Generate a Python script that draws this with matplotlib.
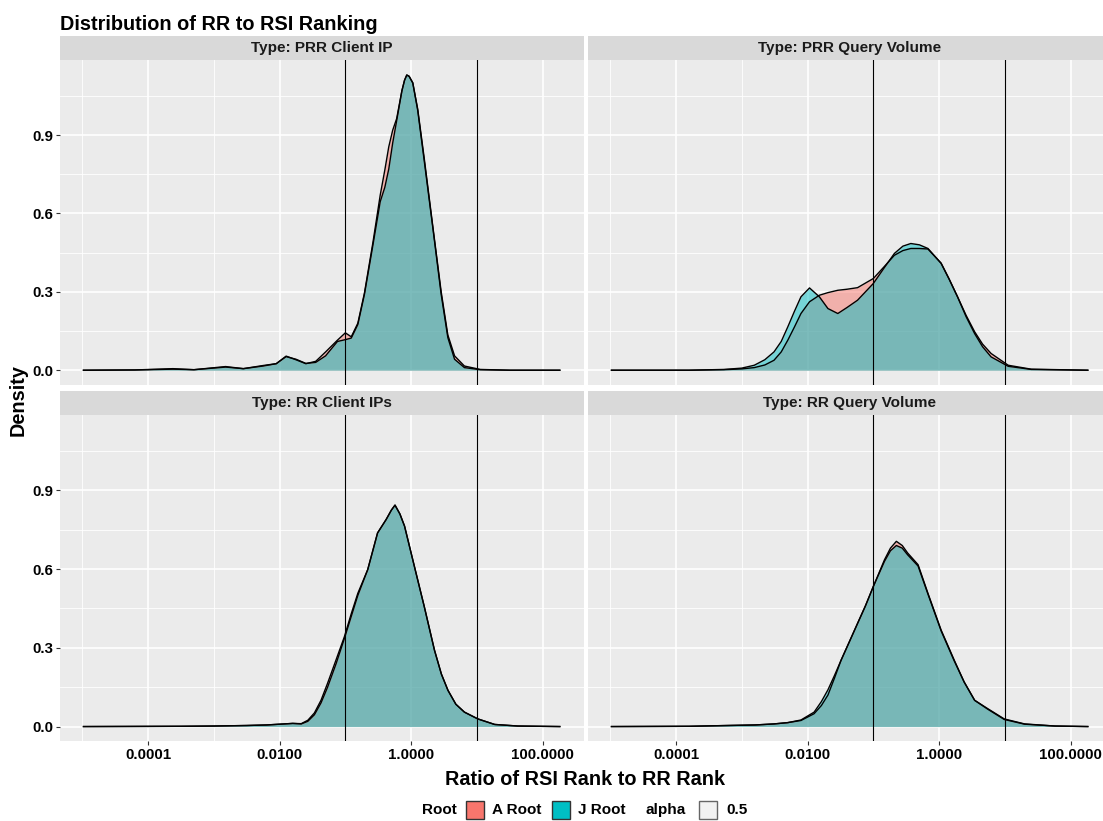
import numpy as np
import matplotlib
matplotlib.use("Agg")
import matplotlib.pyplot as plt
from matplotlib.patches import Rectangle
from matplotlib.ticker import FuncFormatter, NullFormatter

plt.rcParams["font.family"] = ["Liberation Sans", "DejaVu Sans"]
plt.rcParams["font.weight"] = "bold"

# log10 of the ratio, and density, per facet
prr_ip_log = [-4.98, -4.2, -3.62, -3.3, -2.82, -2.55, -2.25, -2.05, -1.9, -1.75, -1.6, -1.45,
              -1.3, -1.12, -1.0, -0.91, -0.81, -0.71, -0.58, -0.47, -0.40, -0.34, -0.28, -0.22,
              -0.14, -0.10, -0.066, -0.03, 0.025, 0.10, 0.20, 0.33, 0.457, 0.558, 0.66, 0.81,
              1.05, 1.5, 2.26]
prr_ip_a = [0, 0.001, 0.006, 0.002, 0.014, 0.006, 0.018, 0.025, 0.054, 0.04, 0.025, 0.034,
            0.07, 0.115, 0.143, 0.128, 0.18, 0.295, 0.49, 0.67, 0.766, 0.855, 0.919, 0.963,
            1.07, 1.11, 1.13, 1.125, 1.10, 1.0, 0.81, 0.55, 0.3, 0.135, 0.055, 0.016,
            0.003, 0.0, 0.0]
prr_ip_j = [0, 0.001, 0.004, 0.002, 0.012, 0.006, 0.016, 0.025, 0.052, 0.042, 0.026, 0.03,
            0.055, 0.11, 0.117, 0.123, 0.175, 0.29, 0.48, 0.645, 0.70, 0.77, 0.87, 0.955,
            1.07, 1.11, 1.13, 1.125, 1.10, 0.995, 0.80, 0.545, 0.29, 0.125, 0.042, 0.01,
            0.002, 0.0, 0.0]

prr_qv_log = [-4.98, -3.8, -3.27, -3.0, -2.81, -2.65, -2.51, -2.40, -2.30, -2.20, -2.10, -1.97,
              -1.82, -1.69, -1.54, -1.40, -1.24, -1.0, -0.84, -0.68, -0.55, -0.43, -0.30, -0.17,
              0.03, 0.15, 0.28, 0.41, 0.54, 0.66, 0.79, 1.05, 1.40, 2.26]
prr_qv_a = [0, 0, 0.002, 0.005, 0.01, 0.02, 0.038, 0.07, 0.115, 0.165, 0.217, 0.262,
            0.287, 0.297, 0.306, 0.31, 0.316, 0.351, 0.395, 0.44, 0.458, 0.466, 0.466, 0.464,
            0.41, 0.35, 0.281, 0.21, 0.147, 0.1, 0.064, 0.019, 0.004, 0]
prr_qv_j = [0, 0, 0.003, 0.008, 0.019, 0.04, 0.07, 0.11, 0.166, 0.225, 0.281, 0.315,
            0.281, 0.236, 0.217, 0.24, 0.268, 0.332, 0.39, 0.447, 0.475, 0.485, 0.48, 0.466,
            0.409, 0.35, 0.281, 0.205, 0.14, 0.09, 0.051, 0.015, 0.003, 0]

rr_ip_log = [-4.98, -3.5, -3.0, -2.5, -2.2, -1.93, -1.8, -1.67, -1.57, -1.47, -1.37, -1.27,
             -1.14, -1.015, -0.91, -0.81, -0.66, -0.51, -0.38, -0.30, -0.245, -0.17, -0.10,
             0.05, 0.20, 0.355, 0.46, 0.56, 0.68, 0.81, 1.015, 1.27, 1.62, 2.26]
rr_ip_a = [0, 0.001, 0.002, 0.004, 0.006, 0.01, 0.012, 0.011, 0.024, 0.052, 0.1, 0.165,
           0.255, 0.342, 0.43, 0.508, 0.598, 0.738, 0.789, 0.825, 0.844, 0.81, 0.764,
           0.61, 0.457, 0.291, 0.2, 0.138, 0.085, 0.055, 0.029, 0.008, 0.002, 0]
rr_ip_j = [0, 0.001, 0.002, 0.004, 0.006, 0.01, 0.012, 0.01, 0.02, 0.045, 0.09, 0.15,
           0.24, 0.335, 0.42, 0.50, 0.598, 0.738, 0.789, 0.825, 0.844, 0.81, 0.764,
           0.61, 0.457, 0.291, 0.2, 0.138, 0.085, 0.055, 0.029, 0.008, 0.002, 0]

rr_qv_log = [-4.98, -3.8, -3.22, -2.8, -2.51, -2.30, -2.10, -1.90, -1.79, -1.69, -1.59, -1.49,
             -1.37, -1.24, -1.12, -1.0, -0.83, -0.74, -0.65, -0.56, -0.48, -0.32, -0.17, 0.03,
             0.23, 0.38, 0.54, 0.74, 0.99, 1.30, 1.76, 2.26]
rr_qv_a = [0, 0.001, 0.004, 0.006, 0.01, 0.015, 0.023, 0.049, 0.08, 0.12, 0.185, 0.253,
           0.32, 0.393, 0.46, 0.534, 0.636, 0.68, 0.706, 0.69, 0.662, 0.617, 0.508, 0.368,
           0.253, 0.17, 0.1, 0.068, 0.029, 0.01, 0.002, 0]
rr_qv_j = [0, 0.001, 0.004, 0.006, 0.01, 0.015, 0.025, 0.055, 0.095, 0.14, 0.195, 0.253,
           0.32, 0.393, 0.46, 0.534, 0.63, 0.67, 0.69, 0.68, 0.655, 0.612, 0.505, 0.365,
           0.25, 0.17, 0.1, 0.066, 0.027, 0.009, 0.002, 0]

facet_titles = ["Type: PRR Client IP", "Type: PRR Query Volume",
                "Type: RR Client IPs", "Type: RR Query Volume"]
facet_data = [(prr_ip_log, prr_ip_a, prr_ip_j), (prr_qv_log, prr_qv_a, prr_qv_j),
              (rr_ip_log, rr_ip_a, rr_ip_j), (rr_qv_log, rr_qv_a, rr_qv_j)]
root_names = ["A Root", "J Root"]
root_colors = ["#F8766D", "#00BFC4"]
cutoffs = [0.1, 10]

W, H = 1103, 821


def fbox(x0, y0, x1, y1):
    # pixel box -> figure fraction
    return [x0 / W, 1 - y1 / H, (x1 - x0) / W, (y1 - y0) / H]


fig = plt.figure(figsize=(W / 100, H / 100), dpi=100)

cols = [(59.8, 583.5), (587.8, 1111.5)]
rows = [(60, 385), (415, 741.4)]
strips = [(36, 60), (391.5, 415)]

for i, (title, (lg, da, dj)) in enumerate(zip(facet_titles, facet_data)):
    r, c = divmod(i, 2)
    x0, x1 = cols[c]
    ax = fig.add_axes(fbox(x0, rows[r][0], x1, rows[r][1]))
    sx = fig.add_axes(fbox(x0, strips[r][0], x1, strips[r][1]))
    sx.set_facecolor("#D9D9D9")
    sx.set_xticks([])
    sx.set_yticks([])
    for s in sx.spines.values():
        s.set_visible(False)
    sx.text(0.5, 0.5, title, ha="center", va="center", fontsize=11,
            color="#1A1A1A", transform=sx.transAxes)

    x = 10 ** np.array(lg)
    for dens, col in zip([da, dj], root_colors):
        ax.fill_between(x, 0, dens, color=col, alpha=0.5, lw=0)
        ax.plot(x, dens, color="black", lw=1.0)
    for v in cutoffs:
        ax.axvline(v, color="black", lw=0.8)

    ax.set_xscale("log")
    ax.set_xlim(10 ** -5.34, 10 ** 2.62)
    ax.set_ylim(-0.0566, 1.1875)
    ax.set_facecolor("#EBEBEB")
    for s in ax.spines.values():
        s.set_visible(False)
    ax.set_xticks([1e-4, 1e-2, 1, 100])
    ax.set_xticks([1e-5, 1e-3, 1e-1, 10], minor=True)
    ax.xaxis.set_major_formatter(FuncFormatter(lambda v, p: "%.4f" % v))
    ax.xaxis.set_minor_formatter(NullFormatter())
    ax.set_yticks([0, 0.3, 0.6, 0.9])
    ax.set_yticks([0.15, 0.45, 0.75, 1.05], minor=True)
    ax.yaxis.set_major_formatter(FuncFormatter(lambda v, p: "%.1f" % v))
    ax.grid(which="major", color="white", lw=1.2)
    ax.grid(which="minor", color="white", lw=0.6)
    ax.set_axisbelow(True)
    ax.tick_params(which="minor", length=0)
    ax.tick_params(which="major", length=2.75, width=0.8, color="#333333",
                   labelsize=10.8, labelcolor="black", pad=2.0)
    if r == 0:
        ax.tick_params(axis="x", which="major", length=0, labelbottom=False)
    if c == 1:
        ax.tick_params(axis="y", which="major", length=0, labelleft=False)

fig.text(60 / W, 1 - 30 / H, "Distribution of RR to RSI Ranking", fontsize=14.3,
         ha="left", va="baseline")
fig.text(585 / W, 1 - 779 / H, "Ratio of RSI Rank to RR Rank", fontsize=14.3,
         ha="center", va="center")
fig.text(18 / W, 1 - 400 / H, "Density", fontsize=14.3, rotation=90,
         ha="center", va="center")

# legend row at the bottom
ly = 810
fig.text(422 / W, 1 - ly / H, "Root", fontsize=11, ha="left", va="center")
fig.text(646 / W, 1 - ly / H, "alpha", fontsize=11, ha="left", va="center")
for bx, tx, col, name in [(466, 492, root_colors[0], root_names[0]),
                          (552, 578, root_colors[1], root_names[1]),
                          (699, 726, "#F2F2F2", "0.5")]:
    fig.add_artist(Rectangle((bx / W, 1 - (ly + 9) / H), 18 / W, 18 / H,
                             transform=fig.transFigure, facecolor=col,
                             edgecolor="#333333" if col != "#F2F2F2" else "#666666",
                             lw=1.0))
    fig.text(tx / W, 1 - ly / H, name, fontsize=11, ha="left", va="center")

fig.savefig("out.png", dpi=100)
